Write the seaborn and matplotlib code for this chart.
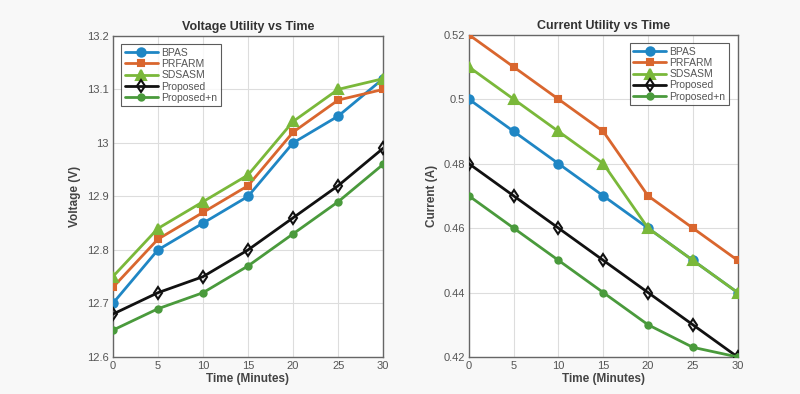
import matplotlib
matplotlib.use("Agg")
import matplotlib.pyplot as plt
import numpy as np
import pandas as pd
import seaborn as sns


# -------------------------------------------------------------------------------------------
# Data

time_min = [0, 5, 10, 15, 20, 25, 30]
series_names = ["BPAS", "PRFARM", "SDSASM", "Proposed", "Proposed+n"]

voltage_bpas = [12.70, 12.80, 12.85, 12.90, 13.00, 13.05, 13.12]
voltage_prfarm = [12.73, 12.82, 12.87, 12.92, 13.02, 13.08, 13.10]
voltage_sdsasm = [12.75, 12.84, 12.89, 12.94, 13.04, 13.10, 13.12]
voltage_proposed = [12.68, 12.72, 12.75, 12.80, 12.86, 12.92, 12.99]
voltage_proposed_n = [12.65, 12.69, 12.72, 12.77, 12.83, 12.89, 12.96]

current_bpas = [0.50, 0.49, 0.48, 0.47, 0.46, 0.45, 0.44]
current_prfarm = [0.52, 0.51, 0.50, 0.49, 0.47, 0.46, 0.45]
current_sdsasm = [0.51, 0.50, 0.49, 0.48, 0.46, 0.45, 0.44]
current_proposed = [0.48, 0.47, 0.46, 0.45, 0.44, 0.43, 0.42]
current_proposed_n = [0.47, 0.46, 0.45, 0.44, 0.43, 0.423, 0.42]

colors = {
    "BPAS": "#1f86c4",
    "PRFARM": "#d9662e",
    "SDSASM": "#7ab83a",
    "Proposed": "#111111",
    "Proposed+n": "#4a9a3c",
}
markers = {"BPAS": "o", "PRFARM": "s", "SDSASM": "^", "Proposed": "d", "Proposed+n": "o"}
msizes = {"BPAS": 6, "PRFARM": 5, "SDSASM": 6.5, "Proposed": 6.5, "Proposed+n": 4.5}


def long_df(values):
    rows = []
    for name, vals in zip(series_names, values):
        for t, v in zip(time_min, vals):
            rows.append({"Time": t, "Value": v, "Series": name})
    return pd.DataFrame(rows)


volt_df = long_df([voltage_bpas, voltage_prfarm, voltage_sdsasm, voltage_proposed, voltage_proposed_n])
curr_df = long_df([current_bpas, current_prfarm, current_sdsasm, current_proposed, current_proposed_n])


# -------------------------------------------------------------------------------------------
# Plot

sns.set_theme(style="whitegrid")
plt.rcParams["font.family"] = ["Liberation Sans", "DejaVu Sans"]

fig = plt.figure(figsize=(8, 3.94), dpi=100)
fig.patch.set_facecolor("#f8f8f8")
ax1 = fig.add_axes([0.141, 0.094, 0.338, 0.815])
ax2 = fig.add_axes([0.586, 0.094, 0.336, 0.818])


def draw(ax, df, title, ylabel, ylim, yticks, ytick_labels, legend_loc):
    for name in series_names:
        sub = df[df["Series"] == name]
        face = "none" if name == "Proposed" else colors[name]
        sns.lineplot(
            data=sub, x="Time", y="Value", ax=ax, color=colors[name],
            marker=markers[name], markersize=msizes[name], linewidth=2,
            markerfacecolor=face if name == "Proposed" else None,
            markeredgecolor=colors[name], markeredgewidth=1.5,
            label=name, zorder=3,
        )
    ax.set_facecolor("white")
    ax.set_xlim(0, 30)
    ax.set_ylim(*ylim)
    ax.set_xticks(time_min)
    ax.set_yticks(yticks)
    ax.set_yticklabels(ytick_labels)
    ax.tick_params(labelsize=8, colors="#555555", length=3, direction="in", pad=3)
    ax.grid(True, color="#dddddd", linewidth=0.8)
    for s in ax.spines.values():
        s.set_color("#666666")
        s.set_linewidth(1.0)
    ax.set_title(title, fontsize=9, fontweight="bold", color="#333333", pad=4)
    ax.set_xlabel("Time (Minutes)", fontsize=8.5, fontweight="bold", color="#444444", labelpad=1)
    ax.set_ylabel(ylabel, fontsize=8.5, fontweight="bold", color="#444444", labelpad=4)
    leg = ax.legend(loc=legend_loc, fontsize=7.5, frameon=True, fancybox=False,
                    handlelength=3.2, handletextpad=0.3, labelspacing=0.12,
                    borderpad=0.35, borderaxespad=0.8)
    leg.get_frame().set_edgecolor("#333333")
    leg.get_frame().set_linewidth(0.8)
    for txt in leg.get_texts():
        txt.set_color("#555555")


draw(ax1, volt_df, "Voltage Utility vs Time", "Voltage (V)", (12.6, 13.2),
     [12.6, 12.7, 12.8, 12.9, 13.0, 13.1, 13.2],
     ["12.6", "12.7", "12.8", "12.9", "13", "13.1", "13.2"], "upper left")
draw(ax2, curr_df, "Current Utility vs Time", "Current (A)", (0.42, 0.52),
     [0.42, 0.44, 0.46, 0.48, 0.50, 0.52],
     ["0.42", "0.44", "0.46", "0.48", "0.5", "0.52"], "upper right")

plt.savefig("out.png", dpi=100, facecolor=fig.get_facecolor())
